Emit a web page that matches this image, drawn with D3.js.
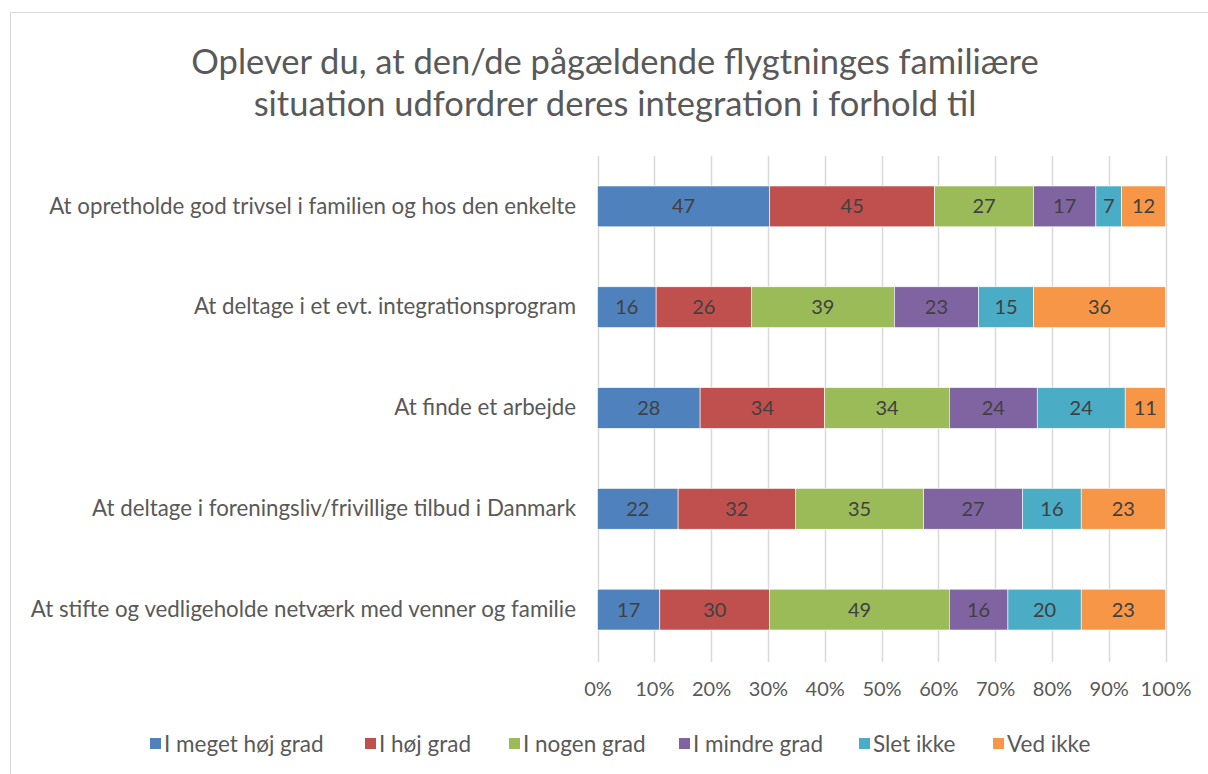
<!DOCTYPE html>
<html>
<head>
<meta charset="utf-8">
<script src="https://cdn.jsdelivr.net/npm/d3@7"></script>
<style>
  body { margin: 0; background: #fff; }
  svg { display: block; }
  text { font-family: Lato, "Open Sans", sans-serif; }
</style>
</head>
<body>
<svg id="chart" width="1208" height="774"></svg>
<script>
const titleLines = ["Oplever du, at den/de pågældende flygtninges familiære",
                    "situation udfordrer deres integration i forhold til"]
const categories = [
  "At opretholde god trivsel i familien og hos den enkelte",
  "At deltage i et evt. integrationsprogram",
  "At finde et arbejde",
  "At deltage i foreningsliv/frivillige tilbud i Danmark",
  "At stifte og vedligeholde netværk med venner og familie"
]
const seriesNames = ["I meget høj grad", "I høj grad", "I nogen grad", "I mindre grad", "Slet ikke", "Ved ikke"]
const seriesColors = ["#4F81BD", "#C0504D", "#9BBB59", "#8064A2", "#4BACC6", "#F79646"]
const meget = [47, 16, 28, 22, 17]
const hoj = [45, 26, 34, 32, 30]
const nogen = [27, 39, 34, 35, 49]
const mindre = [17, 23, 24, 27, 16]
const slet = [7, 15, 24, 16, 20]
const vedIkke = [12, 36, 11, 23, 23]
const tickValues = [0, .1, .2, .3, .4, .5, .6, .7, .8, .9, 1]

const seriesValues = [meget, hoj, nogen, mindre, slet, vedIkke]

// build rows of shares for the 100% stack
const rows = categories.map((c, i) => {
    const row = {cat: c}
    let total = 0
    seriesValues.forEach(s => total += s[i])
    seriesNames.forEach((n, k) => {
        row[n] = seriesValues[k][i] / total
        row[n + "_raw"] = seriesValues[k][i]
    })
    return row
})

const stacked = d3.stack().keys(seriesNames)(rows)

const svg = d3.select("#chart")

// chart frame
svg.append("rect")
    .attr("x", 10.5).attr("y", 12.5)
    .attr("width", 1210).attr("height", 800)
    .attr("fill", "#fff").attr("stroke", "#d9d9d9")

svg.append("g").selectAll("text")
    .data(titleLines)
    .join("text")
    .attr("x", 615).attr("y", (d, i) => 74 + i * 42)
    .attr("text-anchor", "middle")
    .attr("font-size", 34.5)
    .attr("fill", "#595959")
    .text(d => d)

const x = d3.scaleLinear().domain([0, 1]).range([597.5, 1165.5])
const y = d3.scaleBand().domain(categories).range([156, 660]).paddingInner(0.595).paddingOuter(0.2975)

// vertical gridlines
svg.append("g").selectAll("line")
    .data(tickValues)
    .join("line")
    .attr("x1", d => Math.round(x(d)) + .5).attr("x2", d => Math.round(x(d)) + .5)
    .attr("y1", 156).attr("y2", 662)
    .attr("stroke", "#d9d9d9").attr("stroke-width", 1.5)

const xAxis = svg.append("g")
    .attr("transform", "translate(0,662)")
    .call(d3.axisBottom(x).tickValues(tickValues).tickFormat(d3.format(".0%")).tickSize(0).tickPadding(20))
xAxis.select(".domain").remove()
xAxis.selectAll("text").attr("font-size", 20).attr("fill", "#595959").style("font-family", "Lato, 'Open Sans', sans-serif")

const yAxis = svg.append("g")
    .attr("transform", "translate(597,0)")
    .call(d3.axisLeft(y).tickSize(0).tickPadding(21))
yAxis.select(".domain").remove()
yAxis.selectAll("text").attr("font-size", 22.3).attr("fill", "#595959").style("font-family", "Lato, 'Open Sans', sans-serif")

const layers = svg.append("g").selectAll("g")
    .data(stacked)
    .join("g")
    .attr("fill", (d, i) => seriesColors[i])

layers.selectAll("rect")
    .data(d => d)
    .join("rect")
    .attr("x", d => x(d[0]))
    .attr("y", d => y(d.data.cat))
    .attr("width", d => x(d[1]) - x(d[0]))
    .attr("height", y.bandwidth())
    .attr("stroke", "#fff").attr("stroke-width", 0.6)

layers.each(function(s) {
    d3.select(this).selectAll("text")
        .data(s)
        .join("text")
        .attr("x", d => (x(d[0]) + x(d[1])) / 2)
        .attr("y", d => y(d.data.cat) + y.bandwidth() / 2)
        .attr("dy", "0.35em")
        .attr("text-anchor", "middle")
        .attr("font-size", 20)
        .attr("fill", "#404040")
        .text(d => d.data[s.key + "_raw"])
})

// legend
const legendX = [150, 365, 509, 679, 859, 993]
const legend = svg.append("g").selectAll("g")
    .data(seriesNames)
    .join("g")
    .attr("transform", (d, i) => `translate(${legendX[i]},744)`)
legend.append("rect")
    .attr("x", 0).attr("y", -6)
    .attr("width", 11).attr("height", 11)
    .attr("fill", (d, i) => seriesColors[i])
legend.append("text")
    .attr("x", 14).attr("y", 0).attr("dy", "0.35em")
    .attr("font-size", 22.5).attr("fill", "#595959")
    .text(d => d)
</script>
</body>
</html>
